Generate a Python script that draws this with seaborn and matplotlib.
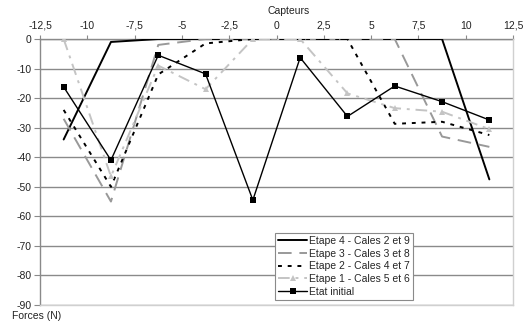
import matplotlib
matplotlib.use("Agg")
import matplotlib.pyplot as plt
import seaborn as sns
import pandas as pd
import numpy as np

sns.set_theme(style="white")
plt.rcParams['font.family'] = ['Liberation Sans', 'DejaVu Sans']

capteurs = [-11.25, -8.75, -6.25, -3.75, -1.25, 1.25, 3.75, 6.25, 8.75, 11.25]
etape4 = [-34, -1, 0, 0, 0, 0, 0, 0, 0, -47.5]
etape3 = [-27, -55, -2, 0, 0, 0, 0, 0, -33, -36.5]
etape2 = [-24, -50, -12, -1.5, 0, 0, 0, -28.7, -28, -32.5]
etape1 = [0, -46.5, -9, -17, 0, 0, -18.4, -23.4, -24.6, -30.5]
etat_initial = [-16.2, -41, -5.5, -11.8, -54.5, -6.3, -26.2, -15.9, -21.2, -27.4]

series_names = ["Etape 4 - Cales 2 et 9", "Etape 3 - Cales 3 et 8",
                "Etape 2 - Cales 4 et 7", "Etape 1 - Cales 5 et 6", "Etat initial"]
series_values = [etape4, etape3, etape2, etape1, etat_initial]

x_ticks = [-12.5, -10, -7.5, -5, -2.5, 0, 2.5, 5, 7.5, 10, 12.5]
x_tick_labels = ["-12,5", "-10", "-7,5", "-5", "-2,5", "0", "2,5", "5", "7,5", "10", "12,5"]
y_ticks = [0, -10, -20, -30, -40, -50, -60, -70, -80, -90]

styles = {
    "Etape 4 - Cales 2 et 9": dict(color="black", linestyle="-", linewidth=1.4, marker=None),
    "Etape 3 - Cales 3 et 8": dict(color="#999999", linestyle=(0, (7, 4)), linewidth=1.4, marker=None),
    "Etape 2 - Cales 4 et 7": dict(color="black", linestyle=(0, (2, 3)), linewidth=1.4, marker=None),
    "Etape 1 - Cales 5 et 6": dict(color="#c4c4c4", linestyle=(0, (6, 3, 1.5, 3)), linewidth=1.4,
                                   marker="^", markersize=5, markeredgewidth=0),
    "Etat initial": dict(color="black", linestyle="-", linewidth=1.0, marker="s",
                         markersize=4.5, markeredgewidth=0),
}

fig = plt.figure(figsize=(5.24, 3.25), dpi=100)
ax = fig.add_axes([40 / 524, (325 - 305) / 325, 473 / 524, 266 / 325])

for name, vals in zip(series_names, series_values):
    df = pd.DataFrame({"x": capteurs, "y": vals})
    st = styles[name]
    kw = dict(color=st["color"], linestyle=st["linestyle"], linewidth=st["linewidth"], label=name)
    if st["marker"]:
        kw.update(marker=st["marker"], markersize=st["markersize"], markeredgewidth=st["markeredgewidth"])
    sns.lineplot(data=df, x="x", y="y", ax=ax, sort=False, **kw)

ax.set_xlim(-12.5, 12.5)
ax.set_ylim(-90, 0)
ax.xaxis.tick_top()
ax.set_xticks(x_ticks)
ax.set_xticklabels(x_tick_labels)
ax.set_yticks(y_ticks)
ax.set_yticklabels([str(v) for v in y_ticks])
ax.set_xlabel("")
ax.set_ylabel("")
ax.yaxis.grid(True, color="#8a8a8a", linewidth=1.0)
ax.xaxis.grid(False)
ax.set_axisbelow(True)
ax.tick_params(axis="x", top=True, bottom=False, direction="out", length=3, width=0.8,
               color="#8a8a8a", labelsize=7.5, pad=3, labelcolor="#222222")
ax.tick_params(axis="y", left=True, direction="out", length=4, width=0.8,
               color="#8a8a8a", labelsize=7.5, pad=2, labelcolor="#222222")
for s in ["top", "left"]:
    ax.spines[s].set_color("#8a8a8a")
    ax.spines[s].set_linewidth(1.0)
for s in ["right", "bottom"]:
    ax.spines[s].set_color("#d0d0d0")
    ax.spines[s].set_linewidth(1.0)
ax.spines["top"].set_zorder(0)

leg = ax.legend(loc="lower left", bbox_to_anchor=(0.497, 0.02), fontsize=7.5,
                frameon=True, fancybox=False, borderpad=0.3, labelspacing=0.25,
                handlelength=2.8, handletextpad=0.2, borderaxespad=0)
leg.get_frame().set_edgecolor("#8a8a8a")
leg.get_frame().set_linewidth(0.8)
leg.get_frame().set_facecolor("white")
leg.get_frame().set_alpha(1)

fig.text(267 / 524, 1 - 11 / 325, "Capteurs", fontsize=7.5, ha="left", va="center", color="#222222")
fig.text(12 / 524, 1 - 316 / 325, "Forces (N)", fontsize=7.5, ha="left", va="center", color="#222222")

fig.savefig("out.png", dpi=100, facecolor="white")
